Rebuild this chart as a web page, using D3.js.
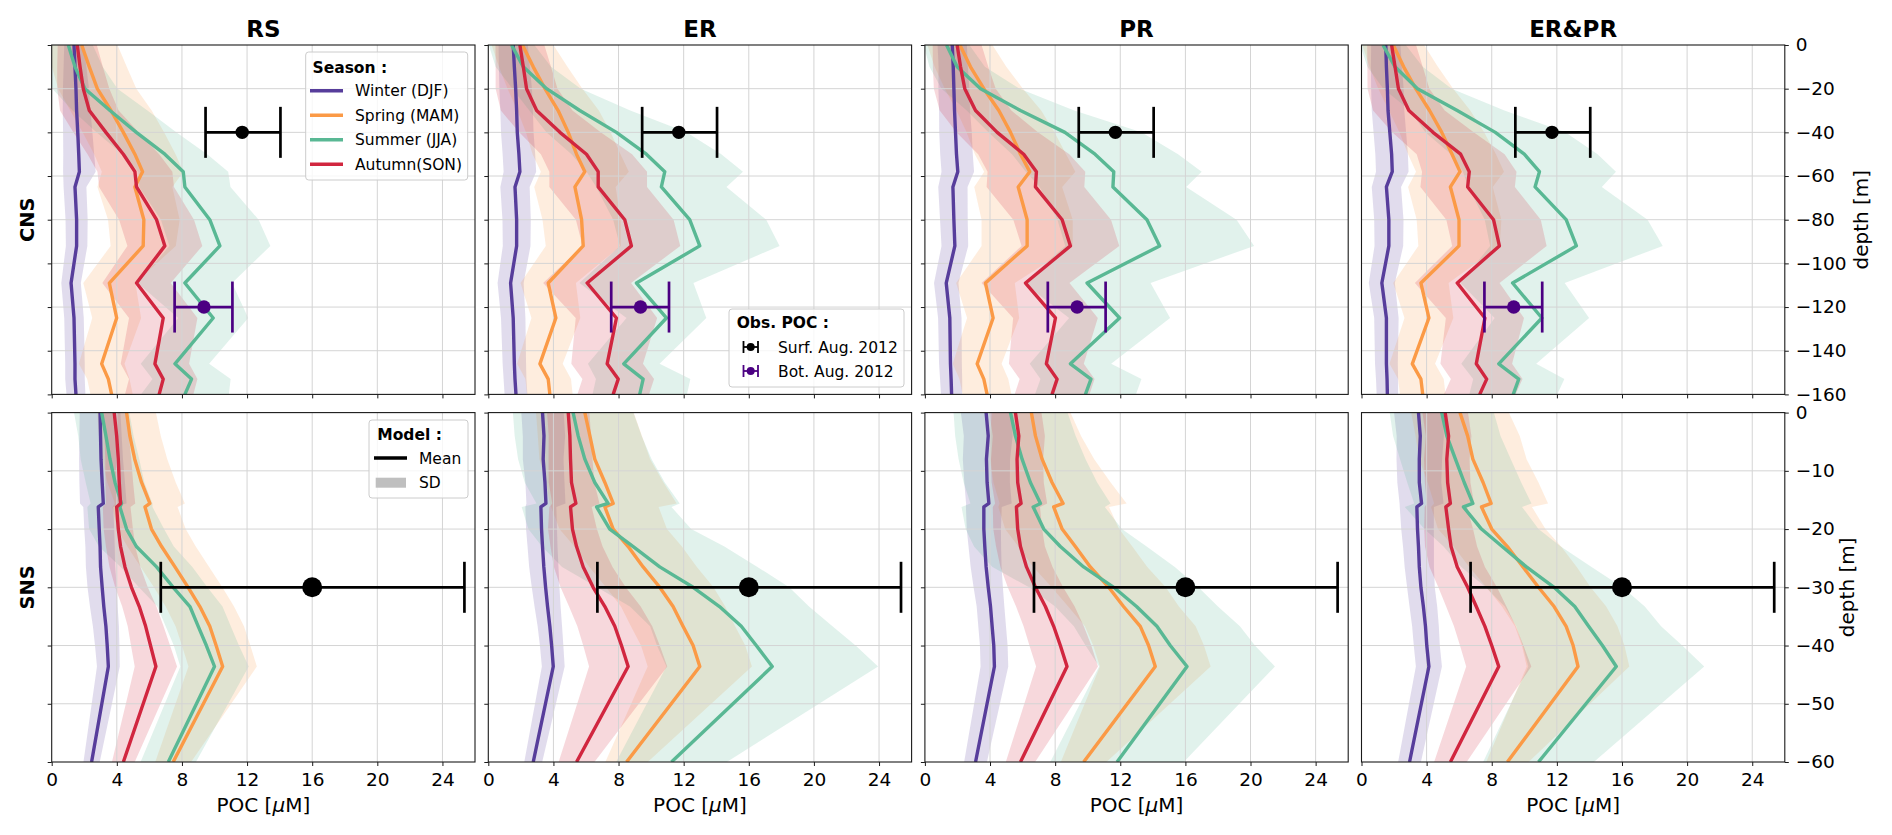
<!DOCTYPE html>
<html>
<head>
<meta charset="utf-8">
<script src="https://cdn.jsdelivr.net/npm/d3@7"></script>
<style>
  body { margin: 0; background: #fff; }
  svg { display: block; }
  text { font-family: "DejaVu Sans", sans-serif; fill: #000; }
</style>
</head>
<body>
<div id="canvas"></div>
<script>
// ---- data ----
var panelNames = ['RS', 'ER', 'PR', 'ER&PR'];
var seasonNames = ['Winter (DJF)', 'Spring (MAM)', 'Summer (JJA)', 'Autumn(SON)'];
var seasonColors = ['#573d9b', '#fb9a46', '#59b894', '#d1263f'];
var xTicks = [0, 4, 8, 12, 16, 20, 24];

// CNS (upper row) depth levels, m
var cnsDepth = [0, -10, -20, -30, -40, -50, -58, -65, -80, -92, -109, -125, -146, -153, -160];
var cnsTicks = [0, -20, -40, -60, -80, -100, -120, -140, -160];
// per panel: [winter, spring, summer, autumn]
var cnsMeanRS = [
  [1.37, 1.43, 1.49, 1.53, 1.60, 1.66, 1.70, 1.43, 1.53, 1.53, 1.19, 1.37, 1.43, 1.43, 1.49],
  [1.84, 2.31, 2.80, 3.64, 4.40, 5.11, 5.58, 5.11, 5.66, 5.62, 3.54, 3.99, 3.07, 3.48, 3.68],
  [1.02, 1.43, 2.04, 3.58, 5.20, 6.95, 8.08, 8.18, 9.71, 10.33, 8.18, 9.92, 7.57, 8.59, 8.18],
  [1.57, 1.74, 1.94, 2.31, 3.33, 4.40, 5.11, 5.21, 6.44, 6.95, 5.21, 6.85, 6.34, 6.85, 6.60]
];
var cnsMeanER = [
  [1.53, 1.60, 1.68, 1.74, 1.78, 1.88, 1.94, 1.64, 1.74, 1.74, 1.37, 1.53, 1.60, 1.64, 1.70],
  [2.10, 2.76, 3.48, 4.29, 4.91, 5.42, 5.93, 5.32, 5.73, 5.83, 3.68, 4.15, 3.17, 3.68, 3.78],
  [1.43, 2.15, 3.58, 5.62, 7.87, 9.71, 10.84, 10.63, 12.37, 12.99, 9.10, 10.94, 8.32, 9.51, 9.30],
  [1.94, 2.15, 2.35, 2.97, 4.40, 6.03, 6.75, 6.75, 8.38, 8.79, 6.07, 7.87, 7.30, 7.98, 7.67]
];
var cnsMeanPR = [
  [1.68, 1.74, 1.78, 1.82, 1.88, 1.94, 2.02, 1.72, 1.78, 1.84, 1.31, 1.53, 1.57, 1.61, 1.64],
  [2.15, 2.80, 3.62, 4.54, 5.26, 5.87, 6.44, 5.73, 6.28, 6.28, 3.72, 4.19, 3.21, 3.62, 3.82],
  [1.33, 1.98, 3.42, 5.87, 8.60, 10.45, 11.60, 11.55, 13.64, 14.42, 9.96, 11.96, 8.94, 10.20, 9.86],
  [1.98, 2.19, 2.45, 3.11, 4.44, 6.07, 6.85, 6.79, 8.43, 8.94, 6.18, 8.02, 7.46, 8.12, 7.81]
];
var cnsMeanERPR = [
  [1.49, 1.53, 1.59, 1.63, 1.74, 1.85, 1.89, 1.53, 1.68, 1.68, 1.25, 1.53, 1.53, 1.57, 1.59],
  [1.95, 2.59, 3.33, 4.18, 4.93, 5.56, 6.05, 5.46, 5.99, 5.99, 3.65, 4.14, 3.12, 3.65, 3.76],
  [1.32, 2.06, 3.44, 5.88, 8.22, 10.00, 10.93, 10.66, 12.57, 13.20, 9.28, 11.08, 8.43, 9.66, 9.32],
  [1.85, 2.06, 2.27, 2.91, 4.39, 6.09, 6.62, 6.52, 8.11, 8.47, 5.88, 7.58, 7.05, 7.69, 7.26]
];
var cnsSdRS = [
  [0.60, 0.70, 0.80, 0.85, 0.90, 0.95, 1.00, 0.70, 0.68, 0.66, 0.60, 0.60, 0.60, 0.60, 0.58],
  [2.2, 2.3, 2.4, 2.5, 2.5, 2.5, 2.5, 2.3, 2.2, 2.0, 1.6, 1.5, 1.4, 1.3, 1.3],
  [1.5, 1.7, 2.0, 2.3, 2.45, 2.6, 2.76, 2.8, 3.0, 3.1, 2.9, 2.15, 2.1, 2.4, 2.7],
  [1.2, 1.4, 1.6, 1.8, 2.0, 2.2, 2.3, 2.3, 2.3, 2.3, 2.1, 2.1, 2.1, 2.1, 2.1]
];
var cnsSdER = [
  [0.90, 0.95, 1.00, 1.00, 1.00, 1.00, 1.00, 0.90, 0.87, 0.85, 0.80, 0.75, 0.72, 0.70, 0.70],
  [1.9, 2.1, 2.3, 2.5, 2.6, 2.7, 2.7, 2.5, 2.4, 2.3, 1.7, 1.5, 1.4, 1.4, 1.4],
  [1.4, 1.7, 2.1, 3.1, 4.3, 4.6, 4.8, 4.0, 4.7, 4.9, 3.5, 2.45, 2.2, 2.9, 2.9],
  [1.5, 1.7, 1.9, 2.2, 2.5, 2.8, 3.0, 3.0, 3.0, 3.0, 2.7, 2.5, 2.2, 2.2, 2.2]
];
var cnsSdPR = [
  [0.90, 0.90, 0.95, 0.95, 1.00, 1.00, 1.00, 0.90, 0.85, 0.82, 0.75, 0.72, 0.70, 0.68, 0.65],
  [2.0, 2.2, 2.4, 2.6, 2.7, 2.8, 2.8, 2.7, 2.8, 2.8, 1.8, 1.6, 1.5, 1.5, 1.5],
  [1.4, 1.7, 2.4, 3.3, 4.7, 5.1, 5.4, 4.5, 5.5, 5.8, 3.9, 3.1, 2.5, 3.1, 3.1],
  [1.5, 1.7, 1.9, 2.2, 2.5, 2.8, 3.0, 3.0, 3.0, 3.0, 2.7, 2.6, 2.3, 2.3, 2.3]
];
var cnsSdERPR = [
  [0.90, 0.95, 1.00, 1.00, 1.00, 1.00, 1.00, 0.90, 0.90, 0.88, 0.80, 0.75, 0.70, 0.68, 0.66],
  [1.9, 2.1, 2.3, 2.5, 2.6, 2.7, 2.7, 2.6, 2.6, 2.5, 1.7, 1.5, 1.4, 1.4, 1.4],
  [1.4, 1.7, 2.1, 2.9, 4.3, 4.5, 4.7, 4.1, 5.0, 5.3, 3.2, 2.9, 2.3, 2.8, 2.7],
  [1.5, 1.7, 1.9, 2.2, 2.5, 2.7, 2.9, 2.9, 2.9, 2.9, 2.6, 2.4, 2.2, 2.2, 2.2]
];

// SNS (lower row) depth levels, m
var snsDepth = [0, -4, -8, -12, -15.6, -16.2, -20, -23, -26.5, -30, -33.3, -36.7, -40, -43.6, -60];
var snsTicks = [0, -10, -20, -30, -40, -50, -60];
var snsMeanRS = [
  [2.97, 3.00, 3.03, 3.10, 3.17, 2.86, 2.92, 2.97, 3.00, 3.10, 3.20, 3.33, 3.41, 3.48, 2.45],
  [4.60, 4.80, 5.10, 5.52, 6.03, 5.73, 6.13, 6.75, 7.57, 8.38, 9.10, 9.71, 10.10, 10.50, 7.46],
  [3.07, 3.33, 3.58, 3.89, 4.29, 4.19, 4.60, 5.20, 6.44, 7.46, 8.49, 9.00, 9.50, 10.00, 7.16],
  [3.84, 3.99, 4.09, 4.15, 4.23, 3.99, 4.09, 4.23, 4.50, 4.90, 5.38, 5.77, 6.07, 6.40, 4.40]
];
var snsMeanER = [
  [3.33, 3.42, 3.37, 3.48, 3.54, 3.23, 3.27, 3.33, 3.41, 3.52, 3.64, 3.78, 3.89, 3.99, 2.76],
  [5.93, 6.24, 6.54, 7.16, 7.67, 7.16, 7.67, 8.59, 9.51, 10.53, 11.35, 11.96, 12.58, 12.99, 8.49],
  [5.21, 5.52, 5.93, 6.54, 7.36, 6.65, 7.46, 8.90, 10.53, 12.58, 14.20, 15.54, 16.46, 17.44, 11.25],
  [4.91, 5.01, 5.05, 5.11, 5.38, 5.05, 5.17, 5.42, 5.83, 6.44, 7.16, 7.77, 8.18, 8.59, 5.42]
];
var snsMeanPR = [
  [3.76, 3.89, 3.78, 3.82, 3.93, 3.62, 3.62, 3.68, 3.76, 3.89, 4.03, 4.13, 4.23, 4.27, 3.11],
  [6.54, 6.79, 7.20, 7.81, 8.49, 7.91, 8.43, 9.24, 10.16, 11.29, 12.20, 13.23, 13.74, 14.15, 9.75],
  [5.26, 5.56, 5.97, 6.48, 7.10, 6.65, 7.30, 8.32, 9.75, 11.60, 13.00, 14.25, 15.07, 16.10, 11.80],
  [5.56, 5.77, 5.66, 5.70, 5.91, 5.62, 5.70, 5.87, 6.24, 6.79, 7.40, 7.91, 8.32, 8.73, 5.87]
];
var snsMeanERPR = [
  [3.50, 3.61, 3.55, 3.55, 3.69, 3.40, 3.44, 3.50, 3.55, 3.65, 3.80, 3.93, 4.01, 4.14, 2.95],
  [6.05, 6.52, 6.84, 7.47, 7.96, 7.37, 8.00, 8.96, 9.92, 10.87, 11.83, 12.57, 13.00, 13.30, 8.96],
  [4.93, 5.24, 5.77, 6.31, 6.84, 6.26, 7.37, 8.64, 10.13, 11.83, 13.10, 13.95, 14.80, 15.65, 10.87],
  [5.14, 5.35, 5.24, 5.29, 5.46, 5.18, 5.35, 5.50, 5.88, 6.52, 7.05, 7.58, 8.00, 8.43, 5.46]
];
var snsSdRS = [
  [1.25, 1.30, 1.35, 1.40, 1.43, 0.92, 0.92, 0.90, 0.90, 0.90, 0.85, 0.80, 0.75, 0.70, 0.50],
  [1.8, 1.9, 2.0, 2.1, 2.15, 2.0, 2.1, 2.1, 2.1, 2.1, 2.1, 2.1, 2.1, 2.1, 1.1],
  [1.7, 1.7, 1.8, 1.8, 1.9, 2.0, 2.3, 2.3, 2.2, 2.1, 2.0, 2.0, 2.0, 2.1, 1.7],
  [0.7, 0.75, 0.8, 0.85, 0.9, 0.85, 0.9, 0.9, 0.95, 1.0, 1.05, 1.1, 1.2, 1.3, 0.7]
];
var snsSdER = [
  [1.30, 1.30, 1.25, 1.20, 1.20, 0.95, 0.95, 0.92, 0.90, 0.85, 0.80, 0.75, 0.72, 0.70, 0.55],
  [3.0, 3.2, 3.4, 3.6, 3.9, 3.3, 3.3, 3.3, 3.3, 3.3, 3.2, 3.2, 3.2, 3.2, 1.3],
  [3.7, 3.9, 4.1, 4.3, 4.4, 4.6, 5.0, 5.6, 6.0, 5.9, 5.5, 5.6, 6.1, 6.5, 3.4],
  [1.3, 1.3, 1.35, 1.4, 1.45, 1.3, 1.5, 1.6, 1.8, 2.0, 2.2, 2.3, 2.35, 2.4, 1.1]
];
var snsSdPR = [
  [1.55, 1.50, 1.45, 1.40, 1.40, 1.10, 1.05, 1.00, 0.95, 0.90, 0.85, 0.85, 0.85, 0.85, 0.70],
  [2.4, 2.8, 3.2, 3.6, 3.9, 3.4, 3.5, 3.5, 3.5, 3.5, 3.4, 3.4, 3.4, 3.4, 1.4],
  [3.5, 3.7, 3.9, 4.1, 4.3, 4.4, 4.8, 5.3, 5.6, 5.2, 5.0, 5.1, 5.2, 5.4, 4.1],
  [1.6, 1.6, 1.6, 1.6, 1.6, 1.45, 1.5, 1.5, 1.6, 1.7, 1.8, 1.85, 1.9, 1.9, 0.9]
];
var snsSdERPR = [
  [1.50, 1.45, 1.40, 1.35, 1.35, 1.05, 1.00, 0.95, 0.90, 0.85, 0.85, 0.82, 0.80, 0.80, 0.70],
  [3.0, 3.2, 3.3, 3.4, 3.5, 3.1, 3.3, 3.3, 3.3, 3.2, 3.2, 3.15, 3.15, 3.15, 1.3],
  [3.2, 3.3, 3.4, 3.5, 3.6, 3.6, 3.5, 3.6, 4.0, 4.2, 4.3, 4.45, 4.9, 5.4, 3.4],
  [1.4, 1.4, 1.4, 1.4, 1.45, 1.3, 1.5, 1.6, 1.7, 1.8, 1.85, 1.9, 1.95, 2.0, 1.0]
];

// observed POC, Aug. 2012 (same in every column)
var obsCnsName = ['Surf. Aug. 2012', 'Bot. Aug. 2012'];
var obsCnsDepth = [-40, -120];
var obsCnsPoc = [11.7, 9.35];
var obsCnsLow = [9.45, 7.55];
var obsCnsHigh = [14.05, 11.1];
var obsCnsColor = ['#000000', '#4b0082'];
var obsSnsDepth = [-30];
var obsSnsPoc = [16.0];
var obsSnsLow = [6.7];
var obsSnsHigh = [25.35];

// ---- layout ----
var W = 1892, H = 835;
var pw = 423.3, ph = 349.4, stepX = 436.6, left0 = 51.7;
var rowTop = [45, 412.6];

var rows = [
  {name: 'CNS', depth: cnsDepth, ticks: cnsTicks, dom: [-160, 0],
   mean: [cnsMeanRS, cnsMeanER, cnsMeanPR, cnsMeanERPR],
   sd: [cnsSdRS, cnsSdER, cnsSdPR, cnsSdERPR],
   obs: obsCnsDepth.map(function(d, i) {
     return {d: d, v: obsCnsPoc[i], lo: obsCnsLow[i], hi: obsCnsHigh[i], c: obsCnsColor[i], r: 6.7};
   }), labelX: 1868},
  {name: 'SNS', depth: snsDepth, ticks: snsTicks, dom: [-60, 0],
   mean: [snsMeanRS, snsMeanER, snsMeanPR, snsMeanERPR],
   sd: [snsSdRS, snsSdER, snsSdPR, snsSdERPR],
   obs: obsSnsDepth.map(function(d, i) {
     return {d: d, v: obsSnsPoc[i], lo: obsSnsLow[i], hi: obsSnsHigh[i], c: '#000000', r: 10};
   }), labelX: 1854}
];

var svg = d3.select('#canvas').append('svg')
  .attr('width', W).attr('height', H);

var x = d3.scaleLinear().domain([0, 26]).range([0, pw]);
var minus = function(d) { return d < 0 ? '\u2212' + Math.abs(d) : String(d); };

rows.forEach(function(row, ri) {
  var y = d3.scaleLinear().domain(row.dom).range([ph, 0]);

  panelNames.forEach(function(pname, ci) {
    var g = svg.append('g')
      .attr('transform', 'translate(' + (left0 + ci * stepX) + ',' + rowTop[ri] + ')');

    var clipId = 'clip' + ri + ci;
    g.append('clipPath').attr('id', clipId)
      .append('rect').attr('width', pw).attr('height', ph);
    var plot = g.append('g').attr('clip-path', 'url(#' + clipId + ')');

    // SD bands
    seasonNames.forEach(function(s, si) {
      var pts = row.depth.map(function(d, k) {
        return {d: d, m: row.mean[ci][si][k], sd: row.sd[ci][si][k]};
      });
      var band = d3.area()
        .y(function(p) { return y(p.d); })
        .x0(function(p) { return x(p.m - p.sd); })
        .x1(function(p) { return x(p.m + p.sd); });
      plot.append('path').datum(pts)
        .attr('d', band)
        .style('fill', seasonColors[si])
        .style('fill-opacity', 0.18)
        .style('stroke', 'none');
    });

    // grid
    plot.selectAll('.gx').data(xTicks.slice(1)).enter().append('line')
      .attr('x1', x).attr('x2', x).attr('y1', 0).attr('y2', ph)
      .style('stroke', '#d4d4d4').style('stroke-width', 1);
    plot.selectAll('.gy').data(row.ticks.slice(1, -1)).enter().append('line')
      .attr('y1', y).attr('y2', y).attr('x1', 0).attr('x2', pw)
      .style('stroke', '#d4d4d4').style('stroke-width', 1);

    // mean lines
    seasonNames.forEach(function(s, si) {
      var pts = row.depth.map(function(d, k) { return {d: d, m: row.mean[ci][si][k]}; });
      var line = d3.line()
        .x(function(p) { return x(p.m); })
        .y(function(p) { return y(p.d); });
      plot.append('path').datum(pts)
        .attr('d', line)
        .style('fill', 'none')
        .style('stroke', seasonColors[si])
        .style('stroke-width', 3.4)
        .style('stroke-linejoin', 'round');
    });

    // observations with error bars
    row.obs.forEach(function(o) {
      var oy = y(o.d);
      g.append('line')
        .attr('x1', x(o.lo)).attr('x2', x(o.hi)).attr('y1', oy).attr('y2', oy)
        .style('stroke', o.c).style('stroke-width', 2.7);
      [o.lo, o.hi].forEach(function(v) {
        g.append('line')
          .attr('x1', x(v)).attr('x2', x(v)).attr('y1', oy - 25.5).attr('y2', oy + 25.5)
          .style('stroke', o.c).style('stroke-width', 2.7);
      });
      g.append('circle').attr('cx', x(o.v)).attr('cy', oy).attr('r', o.r)
        .style('fill', o.c);
    });

    // frame
    g.append('rect').attr('width', pw).attr('height', ph)
      .style('fill', 'none').style('stroke', '#1a1a1a').style('stroke-width', 1.1);

    // x axis
    var xa = g.append('g').attr('transform', 'translate(0,' + ph + ')')
      .call(d3.axisBottom(x).tickValues(xTicks).tickSize(4).tickPadding(7)
        .tickFormat(ri === 1 ? d3.format('d') : function() { return ''; }));
    xa.select('.domain').remove();
    xa.selectAll('text').attr('font-size', null).style('font-size', '18.5px');

    // y axis
    var ya;
    if (ci === 3) {
      ya = g.append('g').attr('transform', 'translate(' + pw + ',0)')
        .call(d3.axisRight(y).tickValues(row.ticks).tickSize(4).tickPadding(7).tickFormat(minus));
    } else {
      ya = g.append('g')
        .call(d3.axisLeft(y).tickValues(row.ticks).tickSize(4).tickFormat(function() { return ''; }));
    }
    ya.select('.domain').remove();
    ya.selectAll('text').attr('font-size', null).style('font-size', '18.5px');
    svg.selectAll('.tick line').style('stroke', '#1a1a1a');

    // column titles
    if (ri === 0) {
      g.append('text').attr('x', pw / 2).attr('y', -8)
        .attr('text-anchor', 'middle')
        .style('font-size', '23px').style('font-weight', 'bold')
        .text(pname);
    } else {
      var xl = g.append('text').attr('x', pw / 2).attr('y', ph + 50)
        .attr('text-anchor', 'middle').style('font-size', '20px');
      xl.append('tspan').text('POC [');
      xl.append('tspan').style('font-style', 'italic').text('\u03bc');
      xl.append('tspan').text('M]');
    }
  });

  // row label
  svg.append('text')
    .attr('transform', 'translate(34,' + (rowTop[ri] + ph / 2) + ') rotate(-90)')
    .attr('text-anchor', 'middle')
    .style('font-size', '19.5px').style('font-weight', 'bold')
    .text(row.name);

  // depth label
  svg.append('text')
    .attr('transform', 'translate(' + row.labelX + ',' + (rowTop[ri] + ph / 2) + ') rotate(-90)')
    .attr('text-anchor', 'middle')
    .style('font-size', '20px')
    .text('depth [m]');
});

// ---- legends ----
function legendBox(x0, y0, w, h) {
  svg.append('rect').attr('x', x0).attr('y', y0).attr('width', w).attr('height', h)
    .attr('rx', 3)
    .style('fill', '#fff').style('fill-opacity', 0.8)
    .style('stroke', '#cccccc').style('stroke-width', 1);
}
function legendText(x0, y0, t, bold) {
  svg.append('text').attr('x', x0).attr('y', y0)
    .style('font-size', '15.5px').style('font-weight', bold ? 'bold' : 'normal')
    .text(t);
}

// seasons (RS, CNS)
legendBox(305.7, 52, 162, 128);
legendText(312.5, 73, 'Season :', true);
seasonNames.forEach(function(s, i) {
  var cy = 90.7 + i * 24.5;
  svg.append('line').attr('x1', 310).attr('x2', 343).attr('y1', cy).attr('y2', cy)
    .style('stroke', seasonColors[i]).style('stroke-width', 3.4);
  legendText(355, cy + 5.5, s, false);
});

// observations (ER, CNS)
legendBox(729, 309, 175, 78);
legendText(736.7, 328, 'Obs. POC :', true);
obsCnsName.forEach(function(s, i) {
  var cy = 347 + i * 24;
  var c = obsCnsColor[i];
  svg.append('line').attr('x1', 743.5).attr('x2', 758).attr('y1', cy).attr('y2', cy)
    .style('stroke', c).style('stroke-width', 1.8);
  [743.5, 758].forEach(function(cx) {
    svg.append('line').attr('x1', cx).attr('x2', cx).attr('y1', cy - 6).attr('y2', cy + 6)
      .style('stroke', c).style('stroke-width', 1.8);
  });
  svg.append('circle').attr('cx', 750.7).attr('cy', cy).attr('r', 4).style('fill', c);
  legendText(778, cy + 5.5, s, false);
});

// model (RS, SNS)
legendBox(369, 420, 99, 78);
legendText(377.3, 440, 'Model :', true);
svg.append('line').attr('x1', 374).attr('x2', 407).attr('y1', 458).attr('y2', 458)
  .style('stroke', '#000').style('stroke-width', 3.4);
legendText(419, 463.8, 'Mean', false);
svg.append('rect').attr('x', 375.7).attr('y', 477.7).attr('width', 30.3).attr('height', 10)
  .style('fill', '#bfbfbf');
legendText(419, 488, 'SD', false);
</script>
</body>
</html>
